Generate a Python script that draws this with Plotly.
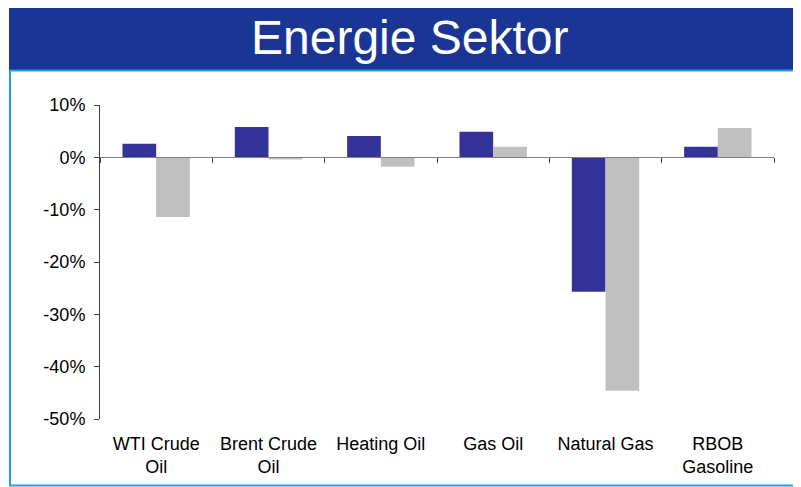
"""Energie Sektor - grouped bar chart of energy commodity returns."""

import plotly.graph_objects as go

# ─── Data ─────────────────────────────────────────────────────────────────── #

categories = [
    "WTI Crude<br>Oil",
    "Brent Crude<br>Oil",
    "Heating Oil",
    "Gas Oil",
    "Natural Gas",
    "RBOB<br>Gasoline",
]
series_blue = [2.6, 5.8, 4.1, 4.9, -25.7, 2.0]
series_grey = [-11.4, -0.4, -1.8, 2.0, -44.6, 5.6]

y_tickvals = [10, 0, -10, -20, -30, -40, -50]
y_ticktext = ["10%", "0%", "-10%", "-20%", "-30%", "-40%", "-50%"]

title_text = "Energie Sektor"

# ─── Figure ───────────────────────────────────────────────────────────────── #

FONT = "Arial, Liberation Sans, sans-serif"
HEADER_BLUE = "#1b3594"
FRAME_BLUE = "#1e9fe0"

# the page body has an 8px margin, so the figure is laid out 8px up/left
BODY = 8
M_L, M_T = 100 - BODY, 105 - BODY
M_R, M_B = 801 - 774 + BODY, 487 - 419 + BODY

fig = go.Figure()

fig.add_trace(
    go.Bar(
        x=categories,
        y=series_blue,
        marker=dict(color="#333399", line=dict(width=0)),
        showlegend=False,
    )
)
fig.add_trace(
    go.Bar(
        x=categories,
        y=series_grey,
        marker=dict(color="#c0c0c0", line=dict(width=0)),
        showlegend=False,
    )
)
# invisible trace so the zero-line axis (x2) gets the same categories
fig.add_trace(
    go.Scatter(
        x=categories,
        y=[0] * len(categories),
        xaxis="x2",
        mode="markers",
        marker=dict(opacity=0),
        hoverinfo="skip",
        showlegend=False,
    )
)

y_min, y_max = -50, 10

fig.update_layout(
    width=801,
    height=487,
    margin=dict(l=M_L, r=M_R, t=M_T, b=M_B),
    paper_bgcolor="white",
    plot_bgcolor="white",
    font=dict(family=FONT, size=18, color="black"),
    barmode="group",
    bargap=0.4,
    bargroupgap=0,
    showlegend=False,
    xaxis=dict(
        range=[-0.5, 5.5],
        showline=False,
        ticks="",
        showgrid=False,
        zeroline=False,
        ticklabelstandoff=12,
    ),
    xaxis2=dict(
        overlaying="x",
        anchor="free",
        position=(0 - y_min) / (y_max - y_min),
        range=[-0.5, 5.5],
        showline=True,
        linecolor="#7f7f7f",
        linewidth=1,
        ticks="outside",
        tickson="boundaries",
        ticklen=5,
        tickcolor="#404040",
        showticklabels=False,
        showgrid=False,
        zeroline=False,
    ),
    yaxis=dict(
        range=[y_min, y_max],
        tickvals=y_tickvals,
        ticktext=y_ticktext,
        showline=True,
        linecolor="#404040",
        linewidth=1,
        ticks="outside",
        ticklen=5,
        tickcolor="#404040",
        showgrid=False,
        zeroline=False,
        ticklabelstandoff=5,
    ),
)

# header band, title and light blue frame (given in window pixels)
plot_h = 487 - M_T - M_B
plot_w = 801 - M_L - M_R


def px_y(py):
    return 1 + (M_T + BODY - py) / plot_h


def px_x(px):
    return (px - M_L - BODY) / plot_w


fig.add_shape(
    type="rect", xref="paper", yref="paper",
    x0=px_x(9), x1=px_x(805), y0=px_y(70), y1=px_y(0),
    fillcolor=HEADER_BLUE, line=dict(width=0), layer="below",
)
frame = dict(color=FRAME_BLUE, width=2)
fig.add_shape(type="line", xref="paper", yref="paper",
              x0=px_x(9), x1=px_x(805), y0=px_y(70.5), y1=px_y(70.5), line=frame)
fig.add_shape(type="line", xref="paper", yref="paper",
              x0=px_x(10), x1=px_x(10), y0=px_y(70), y1=px_y(486), line=frame)
fig.add_shape(type="line", xref="paper", yref="paper",
              x0=px_x(9), x1=px_x(805), y0=px_y(485.5), y1=px_y(485.5), line=frame)

fig.add_annotation(
    text=title_text,
    xref="paper", yref="paper",
    x=px_x(410), y=px_y(38),
    xanchor="center", yanchor="middle",
    showarrow=False,
    font=dict(family=FONT, size=48, color="white"),
)

fig.write_html("out.html")
